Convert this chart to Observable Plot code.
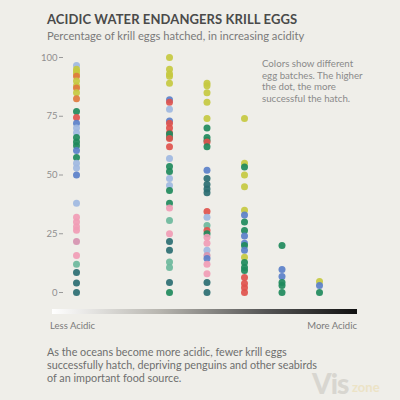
<!DOCTYPE html>
<html>
<head>
<meta charset="utf-8">
<script src="https://cdn.jsdelivr.net/npm/d3@7"></script>
<script src="https://cdn.jsdelivr.net/npm/@observablehq/plot@0.6"></script>
<style>
  html, body { margin: 0; padding: 0; }
  body { width: 400px; height: 400px; background: #efeee9; position: relative; overflow: hidden; font-family: Lato, "Open Sans", sans-serif; }
  .abs { position: absolute; white-space: nowrap; }
  #title { left: 47px; top: 11px; font-size: 13px; font-weight: 700; color: #4a4a4a; letter-spacing: 0.1px; }
  #subtitle { left: 47px; top: 29px; font-size: 11.2px; color: #7a7a7a; }
  #chart { position: absolute; left: 0; top: 50px; }
  #note { left: 262px; top: 58px; font-size: 9.7px; line-height: 11.6px; color: #8a8a8a; }
  #bar { left: 52px; top: 309px; width: 305px; height: 5px; background: linear-gradient(to right, #ffffff, #b8b6b0 35%, #555 70%, #111); }
  #less { left: 50px; top: 320px; font-size: 9.5px; color: #7a7a7a; }
  #more { right: 43px; top: 320px; font-size: 9.5px; color: #7a7a7a; }
  #caption { left: 47px; top: 345px; font-size: 10.8px; line-height: 13px; color: #6e6e6e; }
  #wm1 { left: 312px; top: 366px; font-size: 28px; font-weight: 900; color: #d8d6d0; letter-spacing: -1px; }
  #wm2 { left: 352px; top: 379px; font-size: 13px; font-weight: 700; color: #ece3c6; }
</style>
</head>
<body>
<div id="title" class="abs">ACIDIC WATER ENDANGERS KRILL EGGS</div>
<div id="subtitle" class="abs">Percentage of krill eggs hatched, in increasing acidity</div>
<div id="chart"></div>
<div id="note" class="abs">Colors show different<br>egg batches. The higher<br>the dot, the more<br>successful the hatch.</div>
<div id="bar" class="abs"></div>
<div id="less" class="abs">Less Acidic</div>
<div id="more" class="abs">More Acidic</div>
<div id="caption" class="abs">As the oceans become more acidic, fewer krill eggs<br>successfully hatch, depriving penguins and other seabirds<br>of an important food source.</div>
<div id="wm1" class="abs">Vis</div>
<div id="wm2" class="abs">zone</div>
<script>
// CO2 levels (ppm) — increasing acidity
const levels = [380, 1000, 1250, 1500, 1750, 2000];
const yTicks = [0, 25, 50, 75, 100];

// Batches and colors
const batches = ["yellow", "orange", "red", "blue", "lightblue", "green", "teal", "pink", "mauve", "mint"];
const batchColors = ["#c6c940", "#e07a3e", "#e0524d", "#5b80c9", "#9fb8e1", "#1f8a5c", "#2b6e72", "#f19cb5", "#d692b0", "#6cb99c"];

// Hatch percentages per level, with batch of each dot
const hatch380 = [96.6, 95, 94, 93, 92, 90, 88, 87, 85, 82.5, 77, 74.5, 72, 70, 68, 66, 64, 62.5, 60.4, 57.4, 55, 53, 50, 38, 32, 30, 28, 26.5, 21.7, 15.7, 12, 8.5, 4, 0];
const batch380 = ["lightblue", "yellow", "yellow", "yellow", "orange", "yellow", "yellow", "orange", "yellow", "orange", "green", "red", "blue", "lightblue", "lightblue", "green", "green", "green", "blue", "green", "lightblue", "lightblue", "blue", "lightblue", "pink", "pink", "pink", "pink", "mauve", "pink", "mint", "teal", "teal", "teal"];

const hatch1000 = [100, 95, 93, 92, 89, 82, 81, 78, 73, 72, 70, 68, 67.5, 66, 65.5, 62, 57, 53.6, 51.5, 48.5, 45.5, 43.4, 38, 36, 30.6, 25, 21.7, 18, 13, 10.6, 4.3, 0];
const batch1000 = ["yellow", "yellow", "yellow", "yellow", "yellow", "blue", "red", "lightblue", "blue", "red", "red", "red", "green", "green", "red", "red", "lightblue", "green", "green", "lightblue", "lightblue", "green", "green", "pink", "mint", "pink", "teal", "teal", "mint", "mint", "teal", "green"];

const hatch1250 = [89, 88, 85, 81, 74, 70, 66, 64.7, 64, 62, 52, 48.5, 46, 44, 42.5, 34.5, 32, 28.5, 26.4, 25, 23.5, 21, 18, 15.7, 14.5, 12, 8, 4.3, 0];
const batch1250 = ["yellow", "yellow", "yellow", "yellow", "yellow", "green", "green", "green", "red", "green", "blue", "teal", "teal", "teal", "teal", "red", "lightblue", "mint", "red", "green", "pink", "pink", "lightblue", "mauve", "blue", "pink", "pink", "teal", "teal"];

const hatch1500 = [74, 55, 53.4, 50, 45, 35, 33, 30, 26.4, 24, 21, 20, 18, 15, 12.8, 10.6, 9.4, 6.4, 3.8, 2, 0];
const batch1500 = ["yellow", "yellow", "green", "yellow", "yellow", "yellow", "blue", "green", "green", "blue", "blue", "green", "blue", "yellow", "green", "green", "green", "red", "red", "red", "red"];

const hatch1750 = [20, 9.8, 6.8, 4.3, 3, 0];
const batch1750 = ["green", "blue", "blue", "green", "green", "green"];

const hatch2000 = [4.7, 3, 0];
const batch2000 = ["yellow", "blue", "green"];

const series = [
  [hatch380, batch380], [hatch1000, batch1000], [hatch1250, batch1250],
  [hatch1500, batch1500], [hatch1750, batch1750], [hatch2000, batch2000]
];
const data = series.flatMap(([h, b], i) => h.map((v, j) => ({co2: levels[i], hatch: v, batch: b[j]})));

const chart = Plot.plot({
  width: 400,
  height: 255,
  marginTop: 7,
  marginBottom: 13,
  marginLeft: 63,
  marginRight: 43,
  style: {background: "transparent", fontFamily: "Lato, 'Open Sans', sans-serif", fontSize: "9.5px", color: "#8f8f8f"},
  x: {domain: [380, 2000], range: [76, 319], axis: null},
  y: {domain: [0, 100], ticks: yTicks, tickSize: 4, tickPadding: 2, label: null},
  color: {domain: batches, range: batchColors},
  marks: [
    Plot.axisY({ticks: yTicks, tickSize: 4, tickPadding: 2, label: null, stroke: "#9a9a9a"}),
    Plot.dot(data, {x: "co2", y: "hatch", fill: "batch", r: 3.5, fillOpacity: 0.92})
  ]
});
document.getElementById("chart").appendChild(chart);
</script>
</body>
</html>
